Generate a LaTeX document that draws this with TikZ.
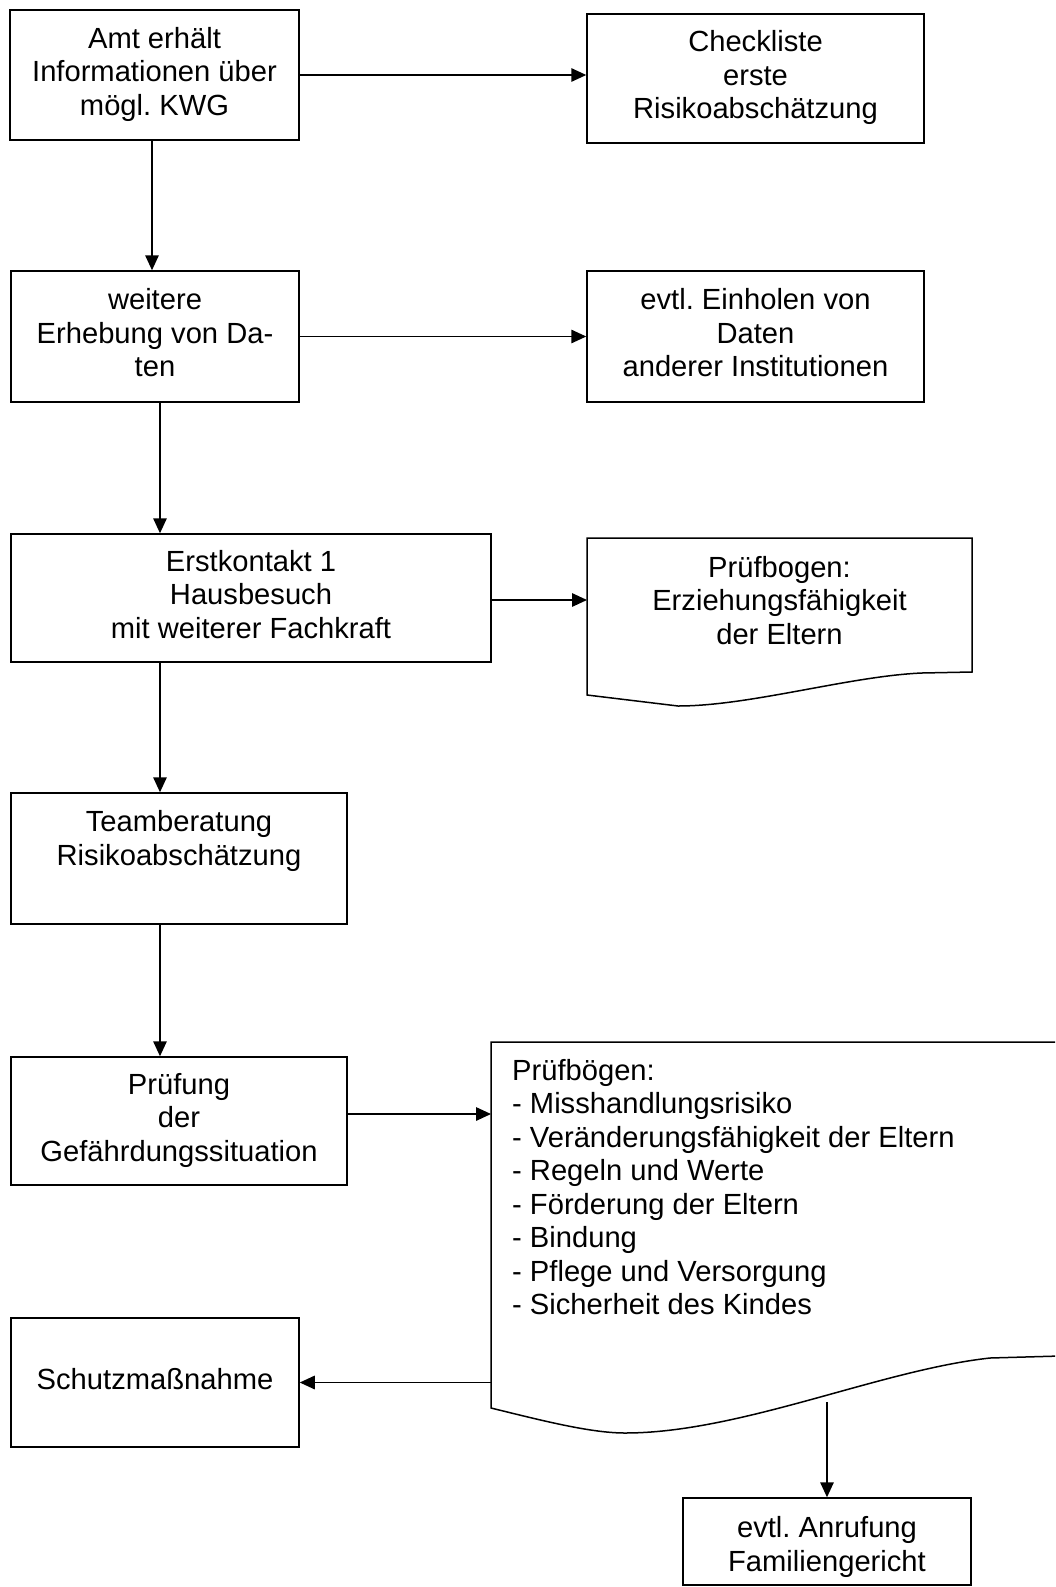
\documentclass[tikz,border=0pt]{standalone}
\usepackage{fontspec}
\setmainfont{Liberation Sans}
\usetikzlibrary{arrows.meta}
\frenchspacing
\begin{document}
\begin{tikzpicture}[x=1pt,y=-1pt,
  box/.style={draw, line width=1.5pt, inner sep=0pt, align=center, font=\fontsize{29.15}{33.5}\selectfont},
  region/.style={inner sep=0pt, outer sep=0pt},
  txt/.style={inner sep=0pt, font=\fontsize{29.15}{33.5}\selectfont},
  arr/.style={line width=1.5pt, -{Triangle[length=15pt,width=13.5pt]}},
  wave/.style={line width=1.5pt, line join=miter}]
\useasboundingbox (0,0) rectangle (1055,1587);
\fill[white] (0,0) rectangle (1055,1587);
\clip (0,0) rectangle (1055,1587);

\node[box, minimum width=289pt, minimum height=130pt] (amt) at (154.5,75) {\strut Amt erhält\\Informationen über\\mögl. KWG\strut};
\node[box, minimum width=337pt, minimum height=129pt] (check) at (755.5,78.5) {\strut Checkliste\\erste\\Risikoabschätzung\strut};
\node[box, minimum width=288pt, minimum height=131pt] (weitere) at (155,336.5) {\strut weitere\\Erhebung von Da-\\ten\strut};
\node[box, minimum width=337pt, minimum height=131pt] (einh) at (755.5,336.5) {\strut evtl. Einholen von\\Daten\\anderer Institutionen\strut};
\node[box, minimum width=480pt, minimum height=128pt] (erst) at (251,598) {\strut Erstkontakt 1\\Hausbesuch\\mit weiterer Fachkraft\strut};

\node[region, minimum width=385pt, minimum height=124pt, anchor=north west] (pb) at (587,538) {};
\draw[wave] (587,538) -- (972,538) -- (972,672) -- (922,673) .. controls (850,676) and (750,706) .. (678,706) -- (587,695) -- cycle;
\node[txt, align=center] (pbT) at (779.5,604) {\strut Prüfbogen:\\Erziehungsfähigkeit\\der Eltern\strut};

\node[box, minimum width=336pt, minimum height=131pt] (team) at (179,858.5) {\strut Teamberatung\\Risikoabschätzung\\\strut};
\node[box, minimum width=336pt, minimum height=128pt] (pruef) at (179,1121) {\strut Prüfung\\der\\Gefährdungssituation\strut};

\node[region, minimum width=567pt, minimum height=366pt, anchor=north west] (pbs) at (491,1042) {};
\draw[wave] (1060,1042) -- (491,1042) -- (491,1408) .. controls (540,1420) and (590,1433) .. (625,1433) .. controls (740,1433) and (880,1370) .. (990,1358) -- (1060,1356);
\node[txt, align=left, anchor=west] (pbsT) at (512,1191) {\strut Prüfbögen:\\- Misshandlungsrisiko\\- Veränderungsfähigkeit der Eltern\\- Regeln und Werte\\- Förderung der Eltern\\- Bindung\\- Pflege und Versorgung\\- Sicherheit des Kindes\strut};

\node[box, minimum width=288pt, minimum height=129pt] (schutz) at (155,1382.5) {\strut\\Schutzmaßnahme\\\strut};
\node[box, minimum width=288pt, minimum height=87pt] (anruf) at (827,1541.5) {};
\node[txt, align=center] (anrufT) at (827,1548) {\strut evtl. Anrufung\\Familiengericht\strut};

\coordinate (sp0) at (152,0);
\coordinate (sp1) at (160,0);
\coordinate (pbsOut) at (827,1402);

\draw[arr] (amt.east) -- (amt.east -| check.west);
\draw[arr] (amt.south -| sp0) -- (weitere.north -| sp0);
\draw[arr] (weitere.east) -- (weitere.east -| einh.west);
\draw[arr] (weitere.south -| sp1) -- (erst.north -| sp1);
\draw[arr] (erst.east |- pb.west) -- (pb.west);
\draw[arr] (erst.south -| sp1) -- (team.north -| sp1);
\draw[arr] (team.south -| sp1) -- (pruef.north -| sp1);
\draw[arr] ([yshift=7pt]pruef.east) -- ([yshift=7pt]pruef.east -| pbs.west);
\draw[arr] (schutz.east -| pbs.west) -- (schutz.east);
\draw[arr] (pbsOut) -- (anruf.north);
\end{tikzpicture}
\end{document}
